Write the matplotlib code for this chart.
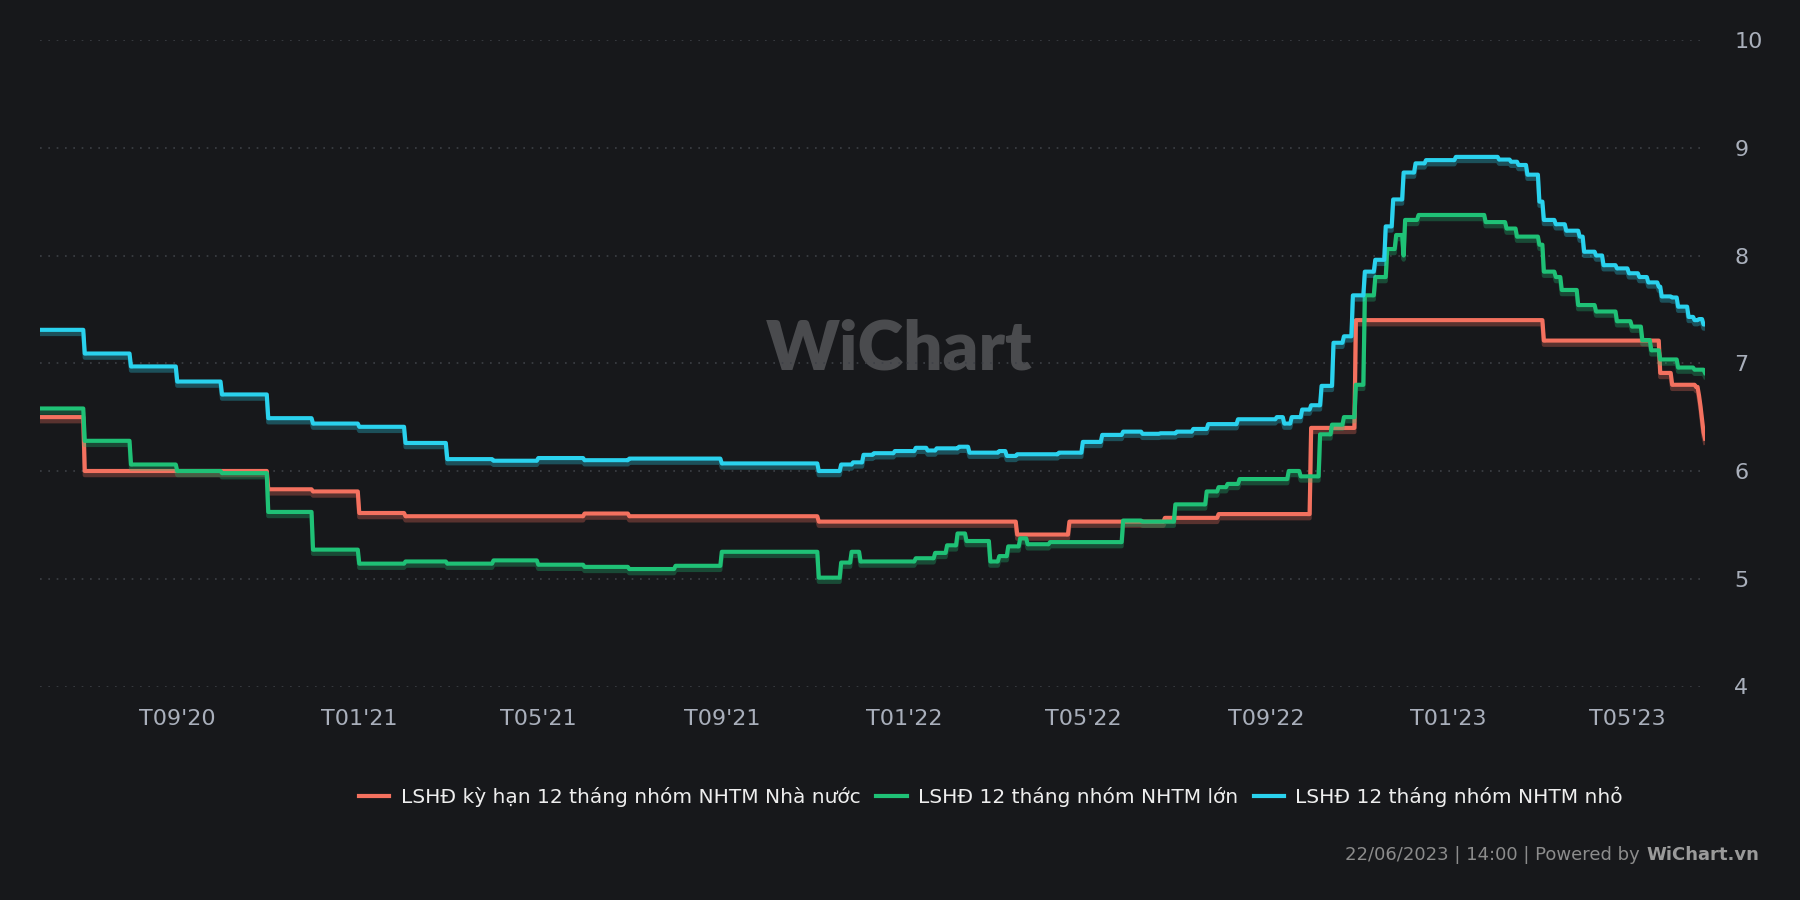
import pandas as pd
import matplotlib
matplotlib.use("Agg")
import matplotlib.pyplot as plt
import matplotlib.dates as mdates
import matplotlib.patheffects as pe

# change points (date, value); values are held until the next point
state_dates = ["2020-06-01", "2020-07-01", "2020-11-01", "2020-12-01", "2021-01-01", "2021-02-01",
               "2021-06-01", "2021-07-01", "2021-11-05", "2022-03-18", "2022-04-22", "2022-06-25",
               "2022-07-31", "2022-10-01", "2022-10-31", "2023-03-06", "2023-05-23", "2023-05-31",
               "2023-06-16", "2023-06-18", "2023-06-19", "2023-06-20", "2023-06-21", "2023-06-22"]
state_vals = [6.50, 6.00, 5.83, 5.81, 5.61, 5.58,
              5.605, 5.58, 5.53, 5.41, 5.53, 5.565,
              5.60, 6.40, 7.40, 7.21, 6.91, 6.80,
              6.78, 6.70, 6.60, 6.48, 6.36, 6.30]

big_dates = ["2020-06-01", "2020-07-01", "2020-08-01", "2020-09-01", "2020-10-01", "2020-11-01",
             "2020-12-01", "2021-01-01", "2021-02-01", "2021-03-01", "2021-04-01", "2021-05-01",
             "2021-06-01", "2021-07-01", "2021-08-01", "2021-09-01", "2021-11-05", "2021-11-20",
             "2021-11-27", "2021-12-03", "2022-01-09", "2022-01-22", "2022-01-30", "2022-02-06",
             "2022-02-12", "2022-02-28", "2022-03-06", "2022-03-12", "2022-03-20", "2022-03-25",
             "2022-04-09", "2022-05-28", "2022-06-10", "2022-07-02", "2022-07-23", "2022-07-31",
             "2022-08-06", "2022-08-14", "2022-09-16", "2022-09-24", "2022-10-07", "2022-10-15",
             "2022-10-23", "2022-10-31", "2022-11-06", "2022-11-13", "2022-11-21", "2022-11-27",
             "2022-12-02", "2022-12-03", "2022-12-12", "2023-01-26", "2023-02-09", "2023-02-16",
             "2023-03-03", "2023-03-06", "2023-03-14", "2023-03-18", "2023-03-29", "2023-04-10",
             "2023-04-24", "2023-05-04", "2023-05-11", "2023-05-17", "2023-05-23", "2023-06-04",
             "2023-06-15", "2023-06-22"]
big_vals = [6.58, 6.28, 6.06, 6.00, 5.98, 5.62,
            5.27, 5.14, 5.16, 5.14, 5.17, 5.13,
            5.11, 5.09, 5.12, 5.25, 5.01, 5.15,
            5.25, 5.16, 5.19, 5.24, 5.31, 5.42,
            5.35, 5.16, 5.21, 5.30, 5.375, 5.32,
            5.34, 5.54, 5.53, 5.69, 5.81, 5.85,
            5.88, 5.925, 6.00, 5.95, 6.34, 6.43,
            6.50, 6.80, 7.63, 7.80, 8.06, 8.19,
            8.00, 8.33, 8.376, 8.31, 8.25, 8.175,
            8.10, 7.85, 7.80, 7.68, 7.54, 7.48,
            7.39, 7.34, 7.215, 7.12, 7.035, 6.96,
            6.94, 6.91]

small_dates = ["2020-06-01", "2020-07-01", "2020-08-01", "2020-09-01", "2020-10-01", "2020-11-01",
               "2020-12-01", "2021-01-01", "2021-02-01", "2021-03-01", "2021-04-01", "2021-05-01",
               "2021-06-01", "2021-07-01", "2021-09-01", "2021-11-05", "2021-11-20", "2021-11-28",
               "2021-12-05", "2021-12-12", "2021-12-26", "2022-01-09", "2022-01-17", "2022-01-23",
               "2022-02-07", "2022-02-14", "2022-03-06", "2022-03-11", "2022-03-18", "2022-04-15",
               "2022-05-01", "2022-05-14", "2022-05-28", "2022-06-10", "2022-06-22", "2022-07-03",
               "2022-07-14", "2022-07-24", "2022-08-13", "2022-09-08", "2022-09-13", "2022-09-18",
               "2022-09-25", "2022-10-01", "2022-10-08", "2022-10-16", "2022-10-23", "2022-10-29",
               "2022-11-06", "2022-11-13", "2022-11-20", "2022-11-25", "2022-12-02", "2022-12-10",
               "2022-12-17", "2023-01-06", "2023-02-04", "2023-02-12", "2023-02-17", "2023-02-23",
               "2023-03-03", "2023-03-06", "2023-03-14", "2023-03-21", "2023-03-30", "2023-04-02",
               "2023-04-10", "2023-04-15", "2023-04-24", "2023-05-02", "2023-05-09", "2023-05-15",
               "2023-05-22", "2023-05-24", "2023-05-31", "2023-06-04", "2023-06-11", "2023-06-15",
               "2023-06-18", "2023-06-21", "2023-06-22"]
small_vals = [7.31, 7.09, 6.97, 6.83, 6.71, 6.49,
              6.44, 6.41, 6.26, 6.11, 6.095, 6.12,
              6.10, 6.115, 6.07, 6.00, 6.06, 6.08,
              6.15, 6.165, 6.185, 6.215, 6.19, 6.21,
              6.225, 6.17, 6.185, 6.14, 6.155, 6.17,
              6.27, 6.335, 6.365, 6.345, 6.35, 6.365,
              6.39, 6.435, 6.48, 6.50, 6.44, 6.50,
              6.57, 6.61, 6.79, 7.19, 7.25, 7.63,
              7.85, 7.96, 8.27, 8.52, 8.77, 8.855,
              8.885, 8.915, 8.89, 8.87, 8.84, 8.75,
              8.50, 8.33, 8.29, 8.23, 8.175, 8.035,
              8.00, 7.91, 7.88, 7.835, 7.80, 7.75,
              7.71, 7.62, 7.61, 7.525, 7.43, 7.40,
              7.41, 7.36, 7.36]

labels = ["LSHĐ kỳ hạn 12 tháng nhóm NHTM Nhà nước",
          "LSHĐ 12 tháng nhóm NHTM lớn",
          "LSHĐ 12 tháng nhóm NHTM nhỏ"]
colors = ["#f4715f", "#1fc176", "#2ad2ee"]

BG = "#17181b"
start, end = pd.Timestamp("2020-06-01"), pd.Timestamp("2023-06-22")
days = pd.date_range(start, end, freq="D")


def daily(dates, vals):
    s = pd.Series(vals, index=pd.to_datetime(dates))
    s = s[~s.index.duplicated(keep="last")]
    return s.reindex(days).ffill()


fig = plt.figure(figsize=(18, 9), dpi=100, facecolor=BG)
ax = fig.add_axes([40 / 1800, 1 - 686.5 / 900, 1665 / 1800, 646.5 / 900])
ax.set_facecolor(BG)

for (d, v), lab, col in zip([(state_dates, state_vals), (big_dates, big_vals), (small_dates, small_vals)],
                            labels, colors):
    s = daily(d, v)
    ax.plot(s.index, s.values, color=col, lw=3, label=lab, solid_joinstyle="round",
            path_effects=[pe.SimpleLineShadow(offset=(0, -3), shadow_color=col, alpha=0.3, linewidth=3),
                          pe.Normal()], zorder=3)

ax.set_xlim(start, end)
ax.set_ylim(4, 10)
ax.set_yticks(range(4, 11))
ax.yaxis.tick_right()
ax.grid(axis="y", color="#3d4046", linestyle=(0, (1, 4)), linewidth=1.2)
ax.grid(axis="x", visible=False)
for sp in ax.spines.values():
    sp.set_visible(False)
ax.xaxis.set_major_locator(mdates.MonthLocator(bymonth=[1, 5, 9]))
ax.xaxis.set_major_formatter(mdates.DateFormatter("T%m'%y"))
ax.tick_params(axis="x", length=0, pad=16, labelsize=16, labelcolor="#a9afbb")
ax.tick_params(axis="y", length=0, pad=21, labelsize=16, labelcolor="#a9afbb")
for t in ax.get_yticklabels():
    t.set_horizontalalignment("left")

ax.text(0.516, 0.52, "WiChart", transform=ax.transAxes, ha="center", va="center",
        fontsize=50, fontweight="heavy", family="Lato", color="#4a4b4e", zorder=1)

leg = fig.legend(loc="center", bbox_to_anchor=(991 / 1800, 1 - 797 / 900), ncol=3, frameon=False,
                 fontsize=14.5, handlelength=1.5, handletextpad=0.55, columnspacing=0.8)
for t in leg.get_texts():
    t.set_color("#eeeeee")
for h in leg.get_lines():
    h.set_linewidth(3)
    h.set_path_effects([])

fig.canvas.draw()
r = fig.canvas.get_renderer()
brand = fig.text(1759 / 1800, 1 - 855 / 900, "WiChart.vn", ha="right", va="center",
                 fontsize=13, fontweight="bold", color="#9a9a9a")
bb = brand.get_window_extent(renderer=r)
fig.text((bb.x0 - 6) / 1800, 1 - 855 / 900, "22/06/2023 | 14:00 | Powered by", ha="right", va="center",
         fontsize=13, color="#8c8c8c")

fig.savefig("out.png", dpi=100, facecolor=BG)
